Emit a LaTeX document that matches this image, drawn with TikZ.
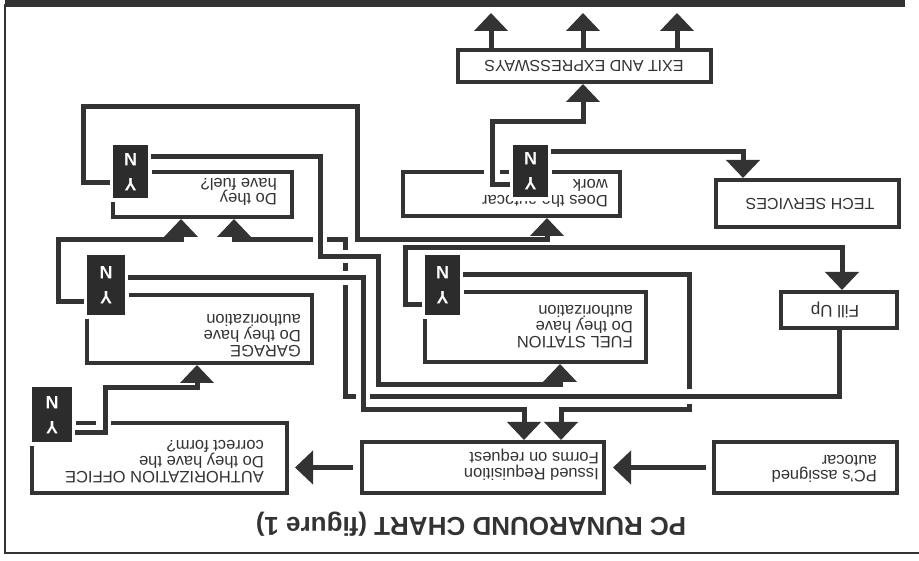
\documentclass[tikz,border=0pt]{standalone}
\usepackage{fontspec}
\setmainfont{Liberation Sans}
\usetikzlibrary{arrows.meta,calc}
\definecolor{ink}{HTML}{333333}
\definecolor{nyink}{HTML}{2C2C2C}
\begin{document}
\begin{tikzpicture}[x=1pt,y=-1pt,
  >={Triangle[width=33pt,length=18pt]},
  box/.style={draw=ink,line width=4pt,rectangle,inner sep=0pt},
  conn/.style={draw=ink,line width=5pt},
  arr/.style={conn,->},
  ny/.style={rectangle,fill=nyink,preaction={draw=white,line width=8pt},outer sep=3pt,inner sep=0pt},
  nyl/.style={text=white,font=\bfseries\fontsize{18}{18}\selectfont,rotate=180,inner sep=0pt},
  txt/.style={rotate=180,align=left,anchor=west,inner sep=0pt,text=ink,font=\fontsize{16.5}{15.5}\selectfont},
  ctxt/.style={rotate=180,inner sep=0pt,text=ink,font=\fontsize{16}{16}\selectfont},
  gap/.style={fill=white}
]
\useasboundingbox (0,0) rectangle (919,561);
\fill[white] (0,0) rectangle (919,561);
% frame
\fill[ink] (5,0) rectangle (905,7);
\draw[ink,line width=1.5pt] (5,4) -- (5,553) -- (919,553);
% title
\node[rotate=180,text=ink,font=\bfseries\fontsize{26}{26}\selectfont,inner sep=0pt] (title) at (471,524) {PC RUNAROUND CHART (figure 1)};
% boxes
\node[box,minimum width=183pt,minimum height=51pt] (pc) at (805.5,467.5) {};
\node[box,minimum width=242pt,minimum height=51pt] (iss) at (483,467.5) {};
\node[box,minimum width=255pt,minimum height=70pt] (auth) at (159.5,458) {};
\node[box,minimum width=225pt,minimum height=68pt] (gar) at (199.5,329) {};
\node[box,minimum width=179pt,minimum height=45pt] (fuel) at (202.5,194.5) {};
\node[box,minimum width=221pt,minimum height=70pt] (stat) at (535.5,327) {};
\node[box,minimum width=217pt,minimum height=44pt] (auto) at (511.5,194) {};
\node[box,minimum width=183pt,minimum height=47pt] (tech) at (807.5,203.5) {};
\node[box,minimum width=116pt,minimum height=36pt] (fill) at (839,310) {};
\node[box,minimum width=253pt,minimum height=32pt] (exit) at (584.5,66) {};
% texts
\node[txt] (pcT) at (877,469) {PC’s assigned\\autocar};
\node[txt] (issT) at (599,465) {Issued Requisition\\Forms on request};
\node[txt] (authT) at (264,462) {AUTHORIZATION OFFICE\\Do they have the\\correct form?};
\node[txt] (garT) at (301,336) {GARAGE\\Do they have\\authorization};
\node[txt] (fuelT) at (277,192) {Do they\\have fuel?};
\node[txt] (statT) at (633,327) {FUEL STATION\\Do they have\\authorization};
\node[txt] (autoT) at (608,193.5) {Does the autocar\\work};
\node[ctxt] (techT) at (810,204) {TECH SERVICES};
\node[ctxt,font=\fontsize{17}{17}\selectfont] (fillT) at (835,310) {Fill Up};
\node[ctxt] (exitT) at (584,66) {EXIT AND EXPRESSWAYS};
% Y/N boxes
\node[ny,minimum width=40pt,minimum height=55pt] (nyA) at (52,414.5) {};
\node[ny,minimum width=38pt,minimum height=60pt] (nyG) at (106,285) {};
\node[ny,minimum width=35pt,minimum height=53pt] (nyF) at (130.5,171.5) {};
\node[ny,minimum width=35pt,minimum height=60pt] (nyS) at (442.5,285) {};
\node[ny,minimum width=35pt,minimum height=52pt] (nyW) at (530.5,171) {};
\foreach \b in {nyA,nyG,nyF,nyS,nyW}{
  \node[nyl] at ($(\b.center)+(0,-12)$) {N};
  \node[nyl] at ($(\b.center)+(0,13)$) {Y};
}
% gaps in box edges
\fill[gap] (96,419) rectangle (111,427);
\fill[gap] (484,168) rectangle (500,176);
% connectors
\draw[arr,shorten <=6pt,shorten >=7pt] (pc.west) -- (iss.east);
\draw[arr,shorten <=7pt,shorten >=6pt] (iss.west) -- (auth.east |- iss.west);
\draw[arr] (nyA.east |- 0,433) -- (105,433) -- (105,388) -- (197,388) -- (197,0 |- gar.south);
\draw[arr] (nyG.west |- 0,302) -- (58,302) -- (58,240) -- (181,240) -- (181,0 |- fuel.south);
\draw[arr] (nyF.west |- 0,183) -- (83,183) -- (83,107) -- (357,107) -- (357,240) -- (547,240) -- (547,0 |- auto.south);
\draw[arr] (nyS.west |- 0,305) -- (405,305) -- (405,248) -- (842,248) -- (842,0 |- fill.north);
\draw[arr] (nyW.west |- 0,185) -- (492,185) -- (492,122) -- (583,122) -- (583,0 |- exit.south);
\draw[arr] (nyW.east |- 0,152) -- (743,152) -- (743,0 |- tech.north);
% station N (under the fill-up line)
\draw[arr] (nyS.east |- 0,275) -- (689,275) -- (689,410) -- (561,410) -- (561,0 |- iss.north);
\fill[gap] (684,389) rectangle (694,404);
% fill up -> do they have fuel?
\draw[arr] (fill.south) -- (839,397) -- (345,397) -- (345,240) -- (234,240) -- (234,0 |- fuel.south);
\fill[gap] (356,392) rectangle (370,402);
\fill[gap] (340,271) rectangle (350,285);
\fill[gap] (340,250) rectangle (350,263);
\fill[gap] (313,235) rectangle (327,245);
% over lines
\draw[arr] (nyF.east |- 0,157) -- (320,157) -- (320,257) -- (378,257) -- (378,385) -- (560,385) -- (560,0 |- stat.south);
\draw[arr] (nyG.east |- 0,278) -- (363,278) -- (363,410) -- (524,410) -- (524,0 |- iss.north);
% exits
\coordinate (out1) at (491,13);
\coordinate (out2) at (583,13);
\coordinate (out3) at (677,13);
\foreach \o in {out1,out2,out3}{
  \draw[arr] (exit.north -| \o) -- (\o);
}
\end{tikzpicture}
\end{document}
